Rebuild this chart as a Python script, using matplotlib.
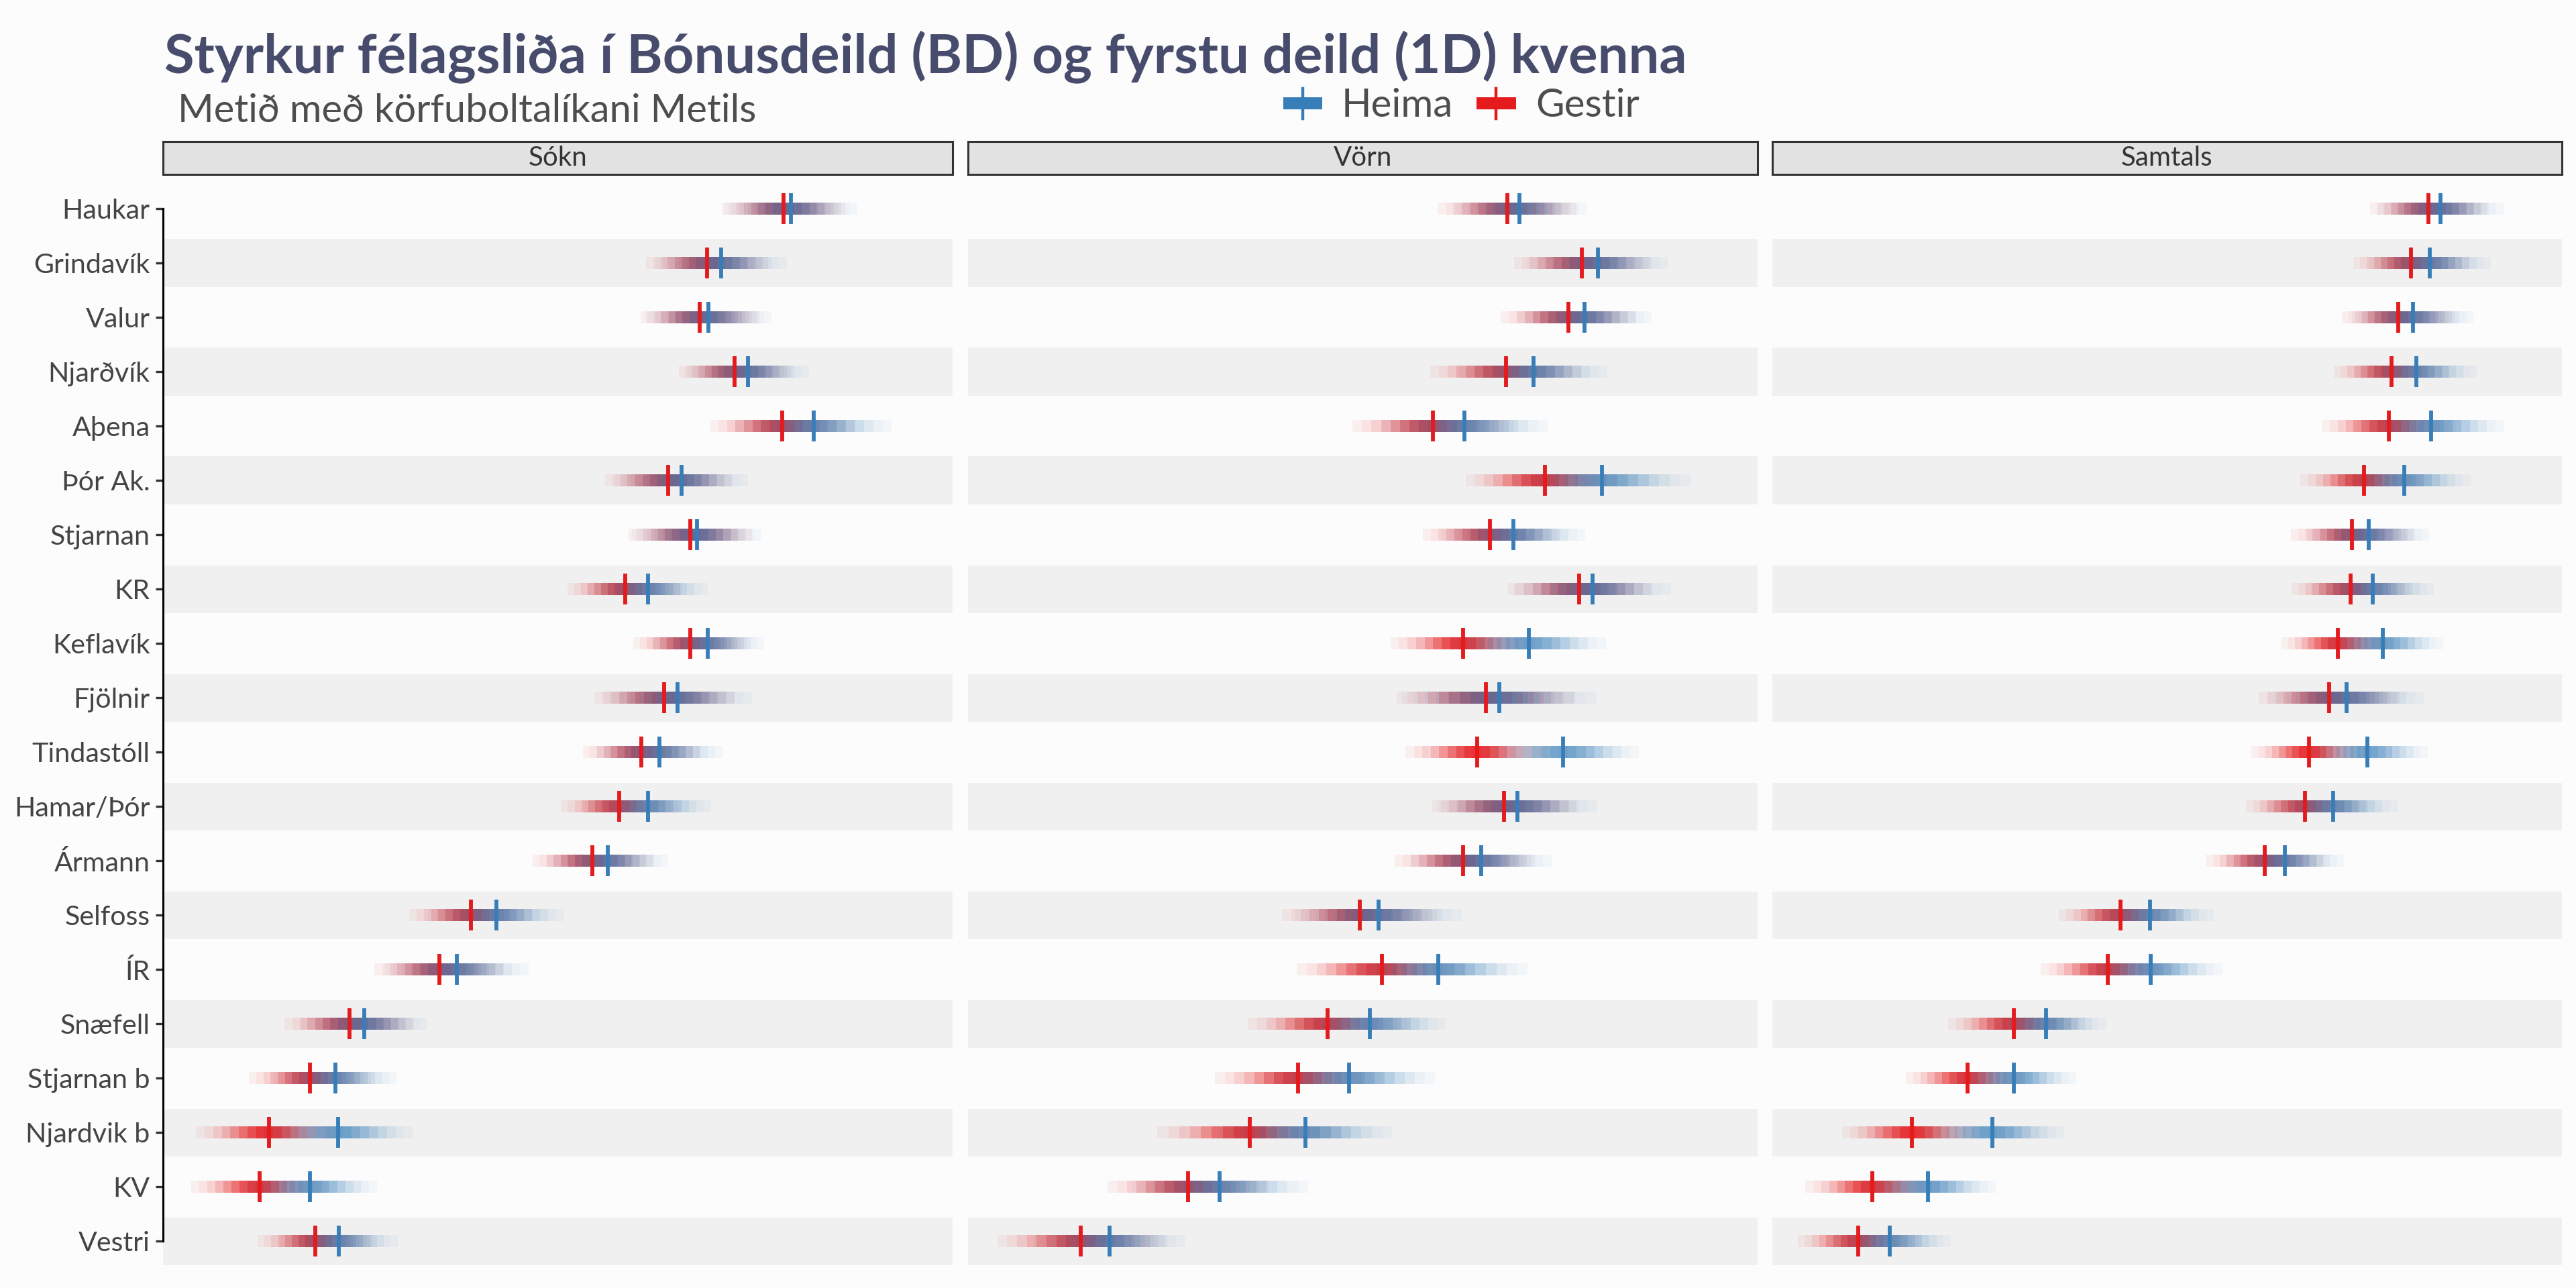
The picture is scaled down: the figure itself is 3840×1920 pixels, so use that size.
import numpy as np
import matplotlib.pyplot as plt
import matplotlib.colors as mcolors
from matplotlib.legend_handler import HandlerBase
from matplotlib.lines import Line2D
from matplotlib.patches import Rectangle

plt.rcParams['font.family'] = ['Lato', 'DejaVu Sans']

# data (x in % of each panel width)
teams = ['Haukar', 'Grindavík', 'Valur', 'Njarðvík', 'Aþena', 'Þór Ak.', 'Stjarnan', 'KR',
         'Keflavík', 'Fjölnir', 'Tindastóll', 'Hamar/Þór', 'Ármann', 'Selfoss', 'ÍR',
         'Snæfell', 'Stjarnan b', 'Njardvik b', 'KV', 'Vestri']
facets = ['Sókn', 'Vörn', 'Samtals']

sokn_heima = [79.5, 70.7, 69.1, 74.1, 82.4, 65.7, 67.6, 61.4, 69.0, 65.2,
              62.9, 61.4, 56.3, 42.2, 37.2, 25.5, 21.8, 22.2, 18.6, 22.3]
sokn_gestir = [78.6, 68.9, 68.0, 72.4, 78.4, 64.0, 66.8, 58.5, 66.8, 63.5,
               60.6, 57.8, 54.4, 39.0, 35.0, 23.6, 18.6, 13.4, 12.2, 19.3]
sokn_heima_spread = [8.4, 8.3, 8.0, 7.7, 9.9, 8.4, 8.2, 7.7, 7.1, 9.4,
                     8.0, 8.0, 7.7, 8.6, 9.1, 8.0, 7.8, 9.5, 8.5, 7.4]
sokn_gestir_spread = [7.8, 7.7, 7.5, 7.1, 9.1, 8.0, 7.8, 7.3, 7.2, 8.9,
                      7.4, 7.4, 7.6, 7.8, 8.2, 8.2, 7.7, 9.2, 8.6, 7.3]

vorn_heima = [69.8, 79.8, 78.1, 71.6, 62.9, 80.3, 69.1, 79.1, 71.0, 67.3,
              75.4, 69.6, 65.0, 52.0, 59.6, 50.9, 48.3, 42.7, 31.9, 17.9]
vorn_gestir = [68.3, 77.7, 76.0, 68.1, 58.9, 73.1, 66.1, 77.4, 62.7, 65.6,
               64.5, 67.9, 62.7, 49.6, 52.4, 45.5, 41.8, 35.7, 27.9, 14.3]
vorn_heima_spread = [8.5, 8.9, 8.5, 9.4, 10.5, 11.2, 9.1, 9.9, 9.8, 12.3,
                     9.6, 10.1, 8.9, 10.5, 11.3, 9.7, 10.8, 11.0, 11.2, 9.6]
vorn_gestir_spread = [8.8, 8.5, 8.5, 9.6, 10.2, 10.1, 8.5, 9.1, 9.2, 11.3,
                      9.1, 9.1, 8.7, 9.8, 10.8, 10.1, 10.5, 11.7, 10.2, 10.6]

samtals_heima = [84.6, 83.3, 81.1, 81.6, 83.4, 80.0, 75.5, 76.0, 77.3, 72.7,
                 75.4, 71.0, 64.9, 47.8, 47.9, 34.7, 30.6, 27.9, 19.7, 14.9]
samtals_gestir = [83.1, 80.9, 79.3, 78.4, 78.1, 74.9, 73.4, 73.2, 71.6, 70.5,
                  68.0, 67.5, 62.4, 44.1, 42.5, 30.6, 24.7, 17.7, 12.7, 10.9]
samtals_heima_spread = [8.0, 7.7, 7.7, 7.7, 9.3, 8.5, 7.7, 7.8, 7.7, 9.9,
                        7.6, 8.2, 7.5, 8.1, 9.1, 7.5, 7.9, 9.1, 8.6, 7.7]
samtals_gestir_spread = [7.4, 7.3, 7.2, 7.3, 8.5, 8.0, 7.7, 7.4, 7.1, 8.9,
                         7.3, 7.5, 7.5, 7.8, 8.5, 8.3, 7.8, 8.9, 8.5, 7.7]

panels = [
    (sokn_heima, sokn_heima_spread, sokn_gestir, sokn_gestir_spread),
    (vorn_heima, vorn_heima_spread, vorn_gestir, vorn_gestir_spread),
    (samtals_heima, samtals_heima_spread, samtals_gestir, samtals_gestir_spread),
]

BLUE = '#377EB8'
RED = '#E41A1C'
BG = '#FCFCFC'
TXT = '#444444'


def gradient(ax, y, med, spread, color, amax):
    # stepped gradient, opacity follows a normal density
    n = 17
    edges = np.linspace(med - spread, med + spread, n + 1)
    mids = (edges[:-1] + edges[1:]) / 2
    z = (mids - med) / (spread / 2.5)
    rgba = np.tile(mcolors.to_rgba(color), (n, 1))
    rgba[:, 3] = amax * np.exp(-0.5 * z ** 2)
    ax.barh([y] * n, np.diff(edges), left=edges[:-1], height=0.22,
            color=rgba, linewidth=0, antialiased=False, zorder=2)


class KeyHandler(HandlerBase):
    def create_artists(self, legend, orig_handle, xdescent, ydescent,
                       width, height, fontsize, trans):
        c = orig_handle.get_color()
        cy = height / 2 - ydescent
        rect = Rectangle((-xdescent, cy - height * 0.23), width, height * 0.46,
                         facecolor=c, edgecolor='none', transform=trans)
        line = Line2D([width / 2 - xdescent] * 2, [cy - height * 0.55, cy + height * 0.55],
                      color=c, lw=1.6, transform=trans)
        return [rect, line]


fig = plt.figure(figsize=(19.2, 9.6), dpi=200, facecolor=BG)

W, H = 3840, 1920
lefts = [243, 1443, 2642]
pw = 1177
top_px, bot_px = 260, 1899
strip_top = 211

for k, (heima, heima_sp, gestir, gestir_sp) in enumerate(panels):
    ax = fig.add_axes([lefts[k] / W, 1 - bot_px / H, pw / W, (bot_px - top_px) / H])
    ax.set_facecolor(BG)
    for i in range(1, len(teams), 2):
        ax.axhspan(i - 0.44, i + 0.44, color='#F0F0F0', lw=0, zorder=0)
    for i in range(len(teams)):
        gradient(ax, i, gestir[i], gestir_sp[i], RED, 0.9)
        gradient(ax, i, heima[i], heima_sp[i], BLUE, 0.72)
    ys = np.arange(len(teams))
    ax.vlines(gestir, ys - 0.285, ys + 0.285, color=RED, lw=2.1, zorder=3)
    ax.vlines(heima, ys - 0.285, ys + 0.285, color=BLUE, lw=2.1, zorder=3)
    ax.set_xlim(0, 100)
    ax.set_ylim(len(teams) - 0.4, -0.63)
    ax.set_xticks([])
    for s in ['top', 'right', 'bottom']:
        ax.spines[s].set_visible(False)
    if k == 0:
        ax.set_yticks(ys)
        ax.set_yticklabels(teams, fontsize=14.8, color=TXT)
        ax.spines['left'].set_bounds(0, len(teams) - 1)
        ax.spines['left'].set_linewidth(1.1)
        ax.spines['left'].set_color('black')
        ax.tick_params(axis='y', length=4, width=1.2, color='#333333', pad=3)
    else:
        ax.spines['left'].set_visible(False)
        ax.set_yticks([])

    # facet strip
    sax = fig.add_axes([lefts[k] / W, 1 - top_px / H, pw / W, (top_px - strip_top) / H])
    sax.set_facecolor('#E2E2E2')
    sax.set_xticks([])
    sax.set_yticks([])
    for s in sax.spines.values():
        s.set_color('#333333')
        s.set_linewidth(1.1)
    sax.text(0.5, 0.5, facets[k], ha='center', va='center', fontsize=14.5,
             color='#333333', transform=sax.transAxes)

fig.text(245 / W, 1 - 108 / H, 'Styrkur félagsliða í Bónusdeild (BD) og fyrstu deild (1D) kvenna',
         fontsize=29.3, fontweight='bold', color='#474C6C', va='baseline', ha='left')
fig.text(265 / W, 1 - 182 / H, 'Metið með körfuboltalíkani Metils',
         fontsize=20.9, color='#4D4D4D', va='baseline', ha='left')

handles = [Line2D([], [], color=BLUE, label='Heima'), Line2D([], [], color=RED, label='Gestir')]
fig.legend(handles=handles, handler_map={Line2D: KeyHandler()}, ncol=2, loc='center',
           bbox_to_anchor=(2178 / W, 1 - 158 / H), frameon=False, fontsize=21,
           labelcolor='#4D4D4D', handlelength=1.0, handletextpad=0.5, columnspacing=0.6,
           borderpad=0)

fig.savefig('out.png', dpi=200, facecolor=BG)
